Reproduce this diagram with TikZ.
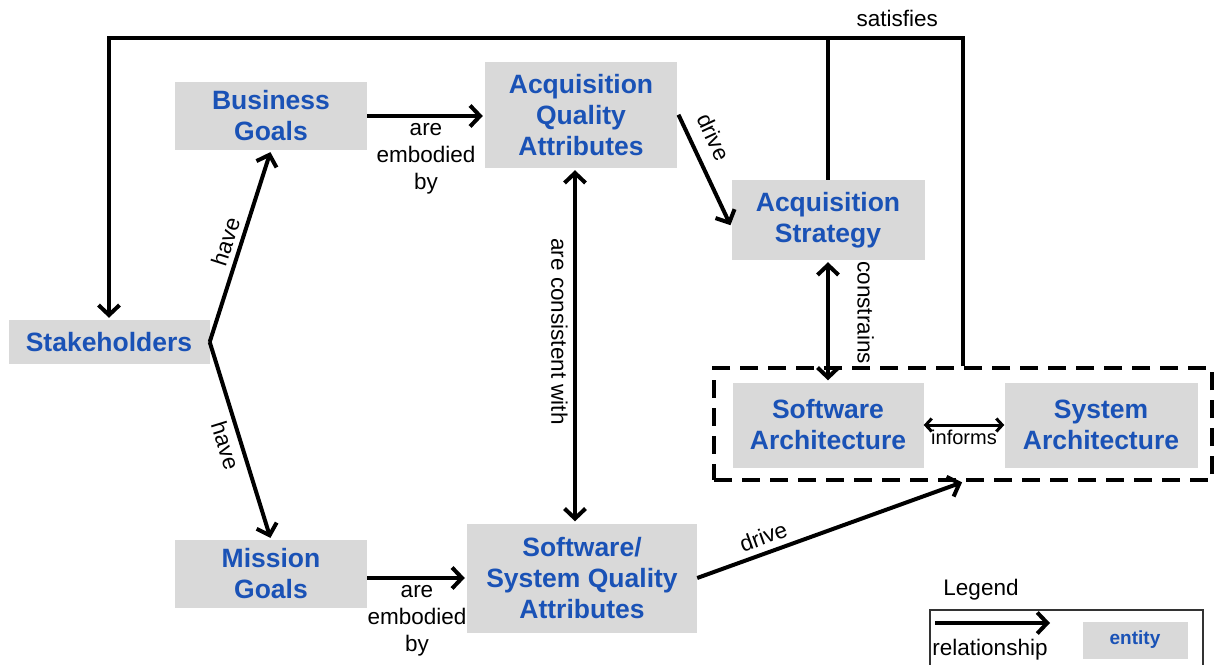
\documentclass[tikz,border=0pt]{standalone}
\usepackage{fontspec}
\setmainfont{Liberation Sans}
\usetikzlibrary{arrows.meta}
\definecolor{entblue}{RGB}{26,82,182}
\definecolor{entgray}{RGB}{217,217,217}

\begin{document}
\begin{tikzpicture}[x=1pt, y=-1pt,
    entity/.style={fill=entgray, text=entblue, align=center, inner sep=0pt,
        font=\bfseries\fontsize{26.5}{31}\selectfont},
    rel/.style={line width=4pt, -{Straight Barb[length=10pt,width=21pt]}},
    birel/.style={line width=4pt, {Straight Barb[length=10pt,width=21pt]}-{Straight Barb[length=10pt,width=21pt]}},
    plain/.style={line width=4pt},
    lbl/.style={font=\fontsize{22.5}{27}\selectfont, align=center}]

    \useasboundingbox (0,0) rectangle (1218,664);

    % Nodes
    \node[entity, minimum width=201pt, minimum height=44pt] (stake) at (109,342) {Stakeholders};
    \node[entity, minimum width=192pt, minimum height=68pt] (biz) at (271,116) {Business\\Goals};
    \node[entity, minimum width=192pt, minimum height=68pt] (mission) at (271,574) {Mission\\Goals};
    \node[entity, minimum width=192pt, minimum height=106pt] (aqa) at (581,115) {Acquisition\\Quality\\Attributes};
    \node[entity, minimum width=193pt, minimum height=80pt] (strategy) at (828,220) {Acquisition\\Strategy};
    \node[entity, minimum width=230pt, minimum height=109pt] (ssqa) at (582,578) {Software/\\System Quality\\Attributes};
    \node[entity, minimum width=191pt, minimum height=85pt] (swarch) at (828,425) {Software\\Architecture};
    \node[entity, minimum width=193pt, minimum height=85pt] (sysarch) at (1101,425) {System\\Architecture};
    \node[draw, line width=4pt, dash pattern=on 18pt off 10pt, minimum width=498pt,
          minimum height=112pt, inner sep=0pt] (arch) at (963,424) {};

    \coordinate (satR) at (arch.north |- 0,38);
    \coordinate (satL) at (stake.north |- 0,38);

    % Edges
    \draw[rel, shorten >=2pt] (stake.east) -- node[lbl, sloped, above=2pt] {have} (biz.south);
    \draw[rel, shorten >=2pt] (stake.east) -- node[lbl, sloped, below=2pt] {have} (mission.north);
    \draw[rel, shorten >=2pt] (biz.east) -- node[lbl, below=2pt] {are\\embodied\\by} (aqa.west |- biz.east);
    \draw[rel, shorten >=2pt] (mission.east |- 0,578) -- node[lbl, below=2pt] {are\\embodied\\by} (ssqa.west);
    \draw[birel, shorten <=2pt, shorten >=2pt] ([xshift=-6pt]aqa.south) -- node[lbl, sloped, below=2pt, pos=0.46] {are consistent with} ([xshift=-6pt]aqa.south |- ssqa.north);
    \draw[rel, shorten <=3pt, shorten >=2pt] ([yshift=3pt]aqa.east) -- node[lbl, sloped, above=9pt, pos=0.3] {drive} ([yshift=-7pt]strategy.west);
    \draw[birel, shorten <=2pt, shorten >=2pt] (strategy.south) -- node[lbl, sloped, above=24pt, pos=0.43] {constrains} (swarch.north);
    \draw[line width=3pt, {Straight Barb[length=6pt,width=13pt]}-{Straight Barb[length=6pt,width=13pt]}] (swarch.east) -- node[lbl, below=0pt, font=\fontsize{20}{24}\selectfont] {informs} (sysarch.west);
    \draw[rel, shorten >=1pt] (ssqa.east) -- node[lbl, sloped, above=3pt, pos=0.27] {drive} (arch.south);
    \draw[rel, shorten >=2pt] (arch.north) -- (satR) -- node[lbl, above=6pt, pos=0.077] {satisfies} (satL) -- (stake.north);
    \draw[plain] (strategy.north) -- (strategy.north |- satR);

    % Legend
    \node[lbl] (legtitle) at (981,590) {Legend};
    \draw[line width=1.5pt, black!80] (930,670) |- (1203,610) -- (1203,670);
    \coordinate (legA) at (935,623);
    \coordinate (legB) at (1050,623);
    \draw[rel] (legA) -- (legB);
    \node[lbl] (legrel) at (990,650) {relationship};
    \node[entity, minimum width=105pt, minimum height=37pt, font=\bfseries\fontsize{19}{22}\selectfont] (legent) at (1135,640) {entity};
\end{tikzpicture}
\end{document}
